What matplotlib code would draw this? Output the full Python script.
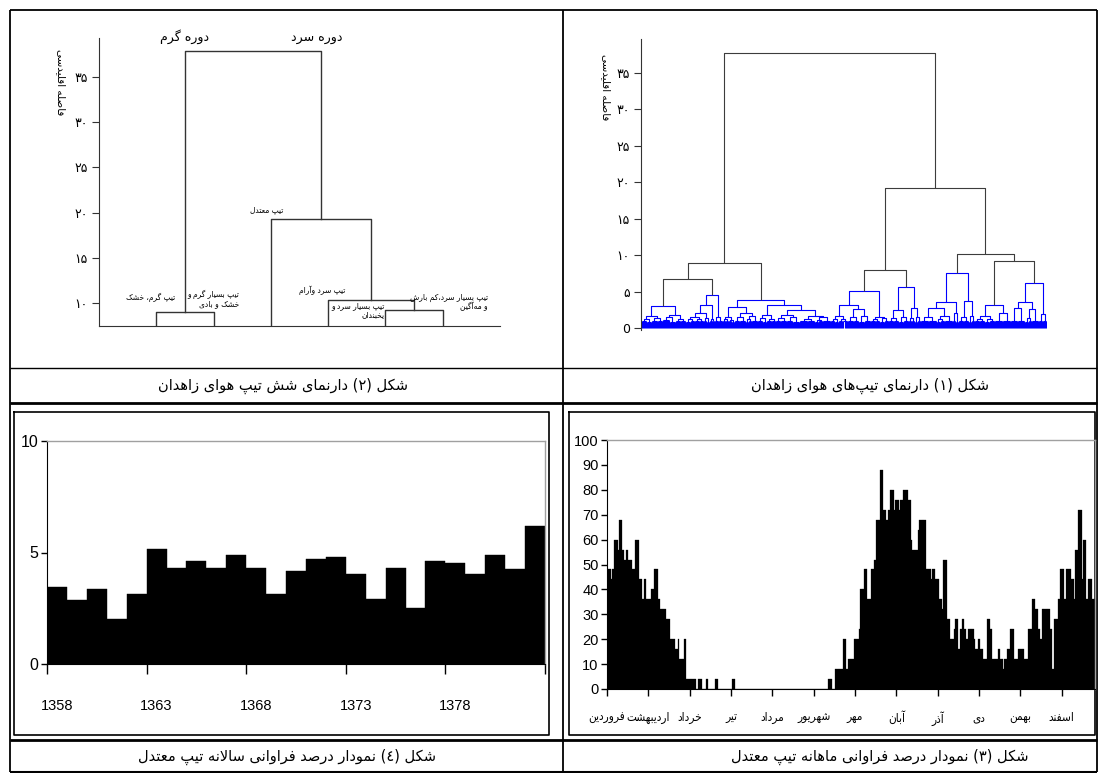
import re
import numpy as np
import matplotlib
matplotlib.use("Agg")
import matplotlib.pyplot as plt
from matplotlib import font_manager
from matplotlib.collections import LineCollection

W, H = 1101, 773

# ---------------- data ----------------
# fig 2: six weather types, linkage rows (leaf a, leaf b, distance), leaves 1..6
types_links = [[1, 2, 8.97], [5, 6, 9.26], [4, 8, 10.33], [3, 9, 19.29], [7, 10, 37.9]]
type_names = ["تیپ گرم، خشک", "تیپ بسیار گرم و\nخشک و بادی", "تیپ معتدل",
              "تیپ سرد وآرام", "تیپ بسیار سرد و\nیخبندان", "تیپ بسیار سرد،کم بارش\nو مه‌آگین"]
period_names = ["دوره گرم", "دوره سرد"]

# fig 1: dendrogram of all days. node = [height, left, right], bush of days = (n_days, height)
days_tree = [37.8,
    [8.9,
        [6.7,
            [3.0, [1.6, [1.3, (5, 1.0), (5, 0.85)], [1.4, (6, 1.0), (5, 0.9)]],
                  [1.8, [1.45, (7, 1.05), (6, 0.85)], [1.25, (5, 0.9), (5, 1.0)]]],
            [4.5,
                [3.1, [2.1, [1.5, [1.2, (5, 0.85), (4, 1.0)], [1.3, (5, 1.0), (4, 0.9)]],
                            [1.4, (3, 1.0), (3, 0.85)]],
                      [1.25, (3, 0.9), (2, 1.0)]],
                [1.5, (4, 1.0), (4, 0.9)]]],
        [3.8,
            [2.9, [1.5, [1.2, (3, 0.9), (3, 1.0)], [1.15, (3, 1.0), (3, 0.85)]],
                  [2.1, [1.45, (5, 1.0), (6, 0.9)], [1.6, [1.2, (3, 0.85), (3, 1.0)], (6, 1.0)]]],
            [3.2, [1.8, [1.4, (5, 1.0), (4, 0.85)], [1.25, (5, 0.9), (4, 1.0)]],
                  [2.5, [1.8, [1.4, (5, 0.9), (6, 1.0)], [1.5, (6, 1.0), (7, 0.85)]],
                        [1.65, [1.3, (8, 1.0), (7, 0.9)],
                               [1.45, [1.15, (4, 0.85), (4, 1.0)], (8, 0.9)]]]]]],
    [19.25,
        [7.96,
            [5.08,
                [3.1, [1.7, [1.3, (4, 1.0), (4, 0.85)], [1.25, (4, 0.9), (4, 1.0)]],
                      [2.6, [1.45, (6, 1.0), (5, 0.9)], [1.6, (6, 0.85), (6, 1.0)]]],
                [1.5, [1.2, (5, 1.0), (4, 0.9)], [1.35, (5, 0.85), (4, 1.0)]]],
            [5.7,
                [2.5, [1.35, (5, 1.0), (5, 0.9)], [1.5, (5, 0.85), (5, 1.0)]],
                [2.7, [1.35, (3, 1.0), (3, 0.9)], [1.45, (3, 0.85), (3, 1.0)]]]],
        [10.2,
            [7.6,
                [3.6, [2.8, [1.5, (8, 1.0), (8, 0.9)], [1.7, [1.25, (4, 0.85), (4, 1.0)], (8, 0.9)]],
                      [2.1, (3, 1.0), (3, 0.85)]],
                [3.75, [1.45, (5, 1.0), (5, 0.9)], [1.6, (3, 0.85), (3, 1.0)]]],
            [9.2,
                [3.15, [1.7, [1.3, (5, 1.0), (5, 0.9)], [1.2, (5, 0.85), (5, 1.0)]],
                       [2.0, (8, 1.0), (8, 0.9)]],
                [6.2,
                    [3.6, [2.7, (7, 1.0), (7, 0.9)], [2.6, [1.35, (4, 0.85), (3, 1.0)], (7, 0.9)]],
                    [1.9, (4, 1.0), (4, 0.9)]]]]]]
gray_links = [37.8, 19.25, 10.2, 9.2, 8.9, 7.96, 6.7]

# fig 3: daily frequency (%) of the moderate type, one row per month
month_freq = [
    48, 48, 48, 44, 48, 60, 60, 60, 56, 68, 68, 56, 56, 52, 56, 56, 52, 52, 52, 48, 48, 60, 60, 60, 44, 44, 36, 36, 44, 36, 36,
    36, 36, 40, 40, 48, 48, 48, 36, 36, 32, 32, 32, 32, 28, 28, 28, 20, 20, 20, 20, 16, 16, 20, 12, 12, 12, 12, 20, 4, 4, 4,
    4, 4, 4, 4, 4, 0, 4, 4, 4, 0, 0, 0, 4, 4, 0, 0, 0, 0, 0, 4, 4, 0, 0, 0, 0, 0, 0, 0, 0, 0, 0,
    0, 4, 4, 0, 0, 0, 0, 0, 0, 0, 0, 0, 0, 0, 0, 0, 0, 0, 0, 0, 0, 0, 0, 0, 0, 0, 0, 0, 0, 0, 0,
    0, 0, 0, 0, 0, 0, 0, 0, 0, 0, 0, 0, 0, 0, 0, 0, 0, 0, 0, 0, 0, 0, 0, 0, 0, 0, 0, 0, 0, 0, 0,
    0, 0, 0, 0, 0, 0, 0, 0, 0, 0, 0, 4, 4, 4, 0, 0, 8, 8, 8, 8, 8, 8, 20, 20, 8, 8, 12, 12, 12, 12, 20,
    20, 20, 20, 24, 40, 40, 40, 48, 48, 36, 36, 36, 48, 48, 52, 52, 68, 68, 68, 88, 88, 72, 72, 68, 68, 72, 80, 80, 80, 72, 76,
    76, 76, 72, 76, 76, 80, 80, 80, 80, 76, 76, 60, 56, 56, 56, 56, 64, 68, 68, 68, 68, 68, 48, 48, 48, 48, 44, 48, 48, 44, 44,
    44, 36, 36, 32, 52, 52, 52, 28, 28, 20, 20, 20, 24, 28, 28, 16, 16, 24, 28, 28, 24, 20, 20, 24, 24, 24, 24, 20, 16, 16, 20,
    20, 16, 16, 12, 12, 12, 28, 28, 24, 24, 12, 12, 12, 12, 16, 16, 12, 12, 8, 12, 12, 16, 16, 24, 24, 24, 12, 12, 12, 16, 16,
    16, 16, 16, 12, 12, 12, 24, 24, 24, 36, 36, 32, 32, 24, 24, 20, 32, 32, 32, 32, 32, 32, 24, 24, 8, 28, 28, 28, 36, 36, 48,
    48, 48, 36, 48, 48, 48, 48, 44, 44, 36, 56, 56, 72, 72, 72, 44, 60, 60, 36, 36, 44, 44, 44, 36, 36,
]
month_names = ["فروردین", "اردیبهشت", "خرداد", "تیر", "مرداد", "شهریور",
               "مهر", "آبان", "آذر", "دی", "بهمن", "اسفند"]

# fig 4: yearly frequency (%) of the moderate type
years = list(range(1358, 1383))
year_freq = [3.45, 2.85, 3.35, 2.0, 3.15, 5.15, 4.3, 4.6, 4.3, 4.9, 4.3, 3.15, 4.15,
             4.7, 4.8, 4.05, 2.9, 4.3, 2.5, 4.6, 4.55, 4.05, 4.9, 4.25, 6.2]

captions = ["شکل (۲) دارنمای شش تیپ هوای زاهدان", "شکل (۱) دارنمای تیپ‌های هوای زاهدان",
            "شکل (٤) نمودار درصد فراوانی سالانه تیپ معتدل", "شکل (۳) نمودار درصد فراوانی ماهانه تیپ معتدل"]
ylabel_fa = "فاصله اقلیدسی"
fa_digits = "۰۱۲۳۴۵۶۷۸۹"


# ---------------- persian shaping (matplotlib has no arabic shaping / bidi) ----------------
FORMS = {"ا": (0xFE8D, 0), "آ": (0xFE81, 0), "ب": (0xFE8F, 1), "ت": (0xFE95, 1), "ث": (0xFE99, 1),
         "ج": (0xFE9D, 1), "ح": (0xFEA1, 1), "خ": (0xFEA5, 1), "د": (0xFEA9, 0), "ذ": (0xFEAB, 0),
         "ر": (0xFEAD, 0), "ز": (0xFEAF, 0), "س": (0xFEB1, 1), "ش": (0xFEB5, 1), "ص": (0xFEB9, 1),
         "ض": (0xFEBD, 1), "ط": (0xFEC1, 1), "ظ": (0xFEC5, 1), "ع": (0xFEC9, 1), "غ": (0xFECD, 1),
         "ف": (0xFED1, 1), "ق": (0xFED5, 1), "ل": (0xFEDD, 1), "م": (0xFEE1, 1), "ن": (0xFEE5, 1),
         "ه": (0xFEE9, 1), "و": (0xFEED, 0), "پ": (0xFB56, 1), "چ": (0xFB7A, 1), "ژ": (0xFB8A, 0),
         "ک": (0xFB8E, 1), "گ": (0xFB92, 1), "ی": (0xFBFC, 1)}


def shape_line(s):
    out = []
    i = 0
    prev = False
    while i < len(s):
        ch = s[i]
        nxt = s[i + 1] if i + 1 < len(s) else ""
        if ch not in FORMS:
            if ch != "\u200c":
                out.append(ch)
            prev = False
            i += 1
            continue
        if ch == "ل" and nxt in ("ا", "آ"):
            out.append(chr((0xFEFB if nxt == "ا" else 0xFEF5) + (1 if prev else 0)))
            prev = False
            i += 2
            continue
        base, dual = FORMS[ch]
        joins_next = bool(dual) and nxt in FORMS
        k = 3 if (prev and joins_next) else 1 if prev else 2 if joins_next else 0
        out.append(chr(base + k))
        prev = joins_next
        i += 1
    tokens = re.findall(r"[0-9\u06F0-\u06F9\u0660-\u0669]+|.", "".join(out))
    vis = "".join(tokens[::-1])
    return vis.translate(str.maketrans("()", ")("))


def fa(s):
    return "\n".join(shape_line(line) for line in s.split("\n"))


def fa_num(n):
    return "".join(fa_digits[int(d)] for d in str(n))


def px_box(x0, y0, x1, y1):
    return [x0 / W, 1 - y1 / H, (x1 - x0) / W, (y1 - y0) / H]


installed = {f.name for f in font_manager.fontManager.ttflist}
num_font = "Liberation Sans Narrow" if "Liberation Sans Narrow" in installed else "Liberation Sans"
plt.rcParams["font.family"] = ["DejaVu Sans"]

fig = plt.figure(figsize=(W / 100, H / 100), dpi=100)
fig.patch.set_facecolor("white")

# ---------------- table grid and captions ----------------
bg = fig.add_axes([0, 0, 1, 1])
bg.set_xlim(0, W)
bg.set_ylim(H, 0)
bg.axis("off")
for y, lw in [(10, 1.3), (368, 1.0), (403, 2.0), (740, 2.0), (772, 1.5)]:
    bg.plot([10, 1097], [y, y], color="black", lw=lw, solid_capstyle="butt")
for x in [10, 563, 1097]:
    bg.plot([x, x], [10, 772], color="black", lw=1.3, solid_capstyle="butt")
for x0, y0, x1, y1 in [(14, 412, 549, 735), (569, 412, 1095, 735)]:
    bg.plot([x0, x1, x1, x0, x0], [y0, y0, y1, y1, y0], color="black", lw=1.2)
cap_pos = [(283, 386), (870, 386), (287, 757), (880, 757)]
for text, (cx, cy) in zip(captions, cap_pos):
    bg.text(cx, cy, fa(text), ha="center", va="center", fontsize=10.5)

# ---------------- fig 2: six types dendrogram ----------------
ax2 = fig.add_axes(px_box(99, 38, 500, 326))
ax2.patch.set_alpha(0)
pos = {i: (float(i), 0.0) for i in range(1, 7)}
for k, (a, b, h) in enumerate(types_links):
    xa, ha = pos[a]
    xb, hb = pos[b]
    ax2.plot([xa, xa, xb, xb], [ha, h, h, hb], color="#333333", lw=1)
    pos[7 + k] = ((xa + xb) / 2, h)
ax2.set_xlim(0, 7)
ax2.set_ylim(7.46, 39.3)
ax2.spines[["top", "right"]].set_visible(False)
ax2.spines[["left", "bottom"]].set_color("#333333")
ax2.set_xticks([])
ax2.set_yticks(range(10, 40, 5))
ax2.set_yticklabels([fa_num(v) for v in range(10, 40, 5)], fontsize=9)
ax2.tick_params(axis="y", direction="out", length=5, pad=3, color="#333333")
type_pos = [(0.9, 10.6, "center"), (2.45, 10.45, "right"), (2.93, 20.3, "center"),
            (3.9, 11.4, "center"), (4.98, 9.25, "right"), (6.79, 10.1, "right")]
for name, (x, y, ha) in zip(type_names, type_pos):
    ax2.text(x, y, fa(name), ha=ha, va="center", fontsize=6, linespacing=1.0,
             fontstretch="condensed")
ax2.text(1.5, 39.4, fa(period_names[0]), ha="center", va="center", fontsize=9, clip_on=False)
ax2.text(3.8, 39.4, fa(period_names[1]), ha="center", va="center", fontsize=9, clip_on=False)
bg.text(61, 82, fa(ylabel_fa), rotation=270, ha="center", va="center", fontsize=7.5)

# ---------------- fig 1: all days dendrogram ----------------
ax1 = fig.add_axes(px_box(641, 39, 1047, 330))
ax1.patch.set_alpha(0)
segs, cols = [], []


def walk(node, start):
    if isinstance(node, tuple):
        n, h = node
        xs = start + 0.5 + np.arange(n)
        for x in xs:
            segs.append([(x, 0), (x, h)])
            cols.append("#0000ff")
        segs.append([(xs[0], h), (xs[-1], h)])
        cols.append("#0000ff")
        return (xs[0] + xs[-1]) / 2, h, start + n
    h, left, right = node
    xl, hl, s = walk(left, start)
    xr, hr, s = walk(right, s)
    segs.append([(xl, hl), (xl, h), (xr, h), (xr, hr)])
    cols.append("#3c3c3c" if h in gray_links else "#0000ff")
    return (xl + xr) / 2, h, s


_, _, n_days = walk(days_tree, 0)
ax1.add_collection(LineCollection(segs, colors=cols, linewidths=0.8))
ax1.set_xlim(0, n_days)
ax1.set_ylim(-0.27, 39.67)
ax1.spines[["top", "right", "bottom"]].set_visible(False)
ax1.spines["left"].set_color("#333333")
ax1.set_xticks([])
ax1.set_yticks(range(0, 40, 5))
ax1.set_yticklabels(["0"] + [fa_num(v) for v in range(5, 40, 5)], fontsize=9)
ax1.tick_params(axis="y", direction="out", length=5, pad=3, color="#333333")
bg.text(606, 87, fa(ylabel_fa), rotation=270, ha="center", va="center", fontsize=7.5)

# ---------------- fig 4: yearly bars ----------------
ax4 = fig.add_axes(px_box(47, 441, 545, 664))
ax4.patch.set_alpha(0)
ax4.bar(np.arange(len(years)) + 0.5, year_freq, width=1.0, color="black",
        edgecolor="black", linewidth=0.3)
ax4.set_xlim(0, len(years))
ax4.set_ylim(0, 10)
ax4.set_yticks([0, 5, 10])
ax4.set_yticklabels(["0", "5", "10"], family=num_font, fontsize=11.5)
ax4.set_xticks(range(0, len(years) + 1, 5))
ax4.set_xticklabels([])
ax4.set_xticks(np.arange(0, len(years), 5) + 0.5, minor=True)
ax4.set_xticklabels([str(years[i]) for i in range(0, len(years), 5)], minor=True,
                    family=num_font, fontsize=10.5)
ax4.tick_params(axis="x", which="major", direction="out", length=7, width=1)
ax4.tick_params(axis="x", which="minor", length=0, pad=25)
ax4.tick_params(axis="y", direction="out", length=4, width=1, pad=2)
for sp in ["top", "right"]:
    ax4.spines[sp].set_color("#a0a0a0")
    ax4.spines[sp].set_linewidth(1.0)

# ---------------- fig 3: daily bars ----------------
ax3 = fig.add_axes(px_box(607, 440, 1095, 689))
ax3.patch.set_alpha(0)
days = np.arange(len(month_freq))
ax3.bar(days + 0.5, month_freq, width=1.0, color="black", edgecolor="black", linewidth=0.2)
ax3.set_xlim(0, len(month_freq))
ax3.set_ylim(0, 100)
ax3.set_yticks(range(0, 101, 10))
ax3.set_yticklabels([str(v) for v in range(0, 101, 10)], family=num_font, fontsize=10.5)
ax3.set_xticks(np.arange(12) * 31)
ax3.set_xticklabels([fa(m) for m in month_names], fontsize=8.5, fontstretch="condensed")
ax3.tick_params(axis="x", direction="out", length=5, width=1, pad=11)
ax3.tick_params(axis="y", direction="out", length=4, width=1, pad=2)
for sp in ["top", "right"]:
    ax3.spines[sp].set_color("#a0a0a0")
    ax3.spines[sp].set_linewidth(1.0)

fig.savefig("out.png", dpi=100, facecolor="white")
